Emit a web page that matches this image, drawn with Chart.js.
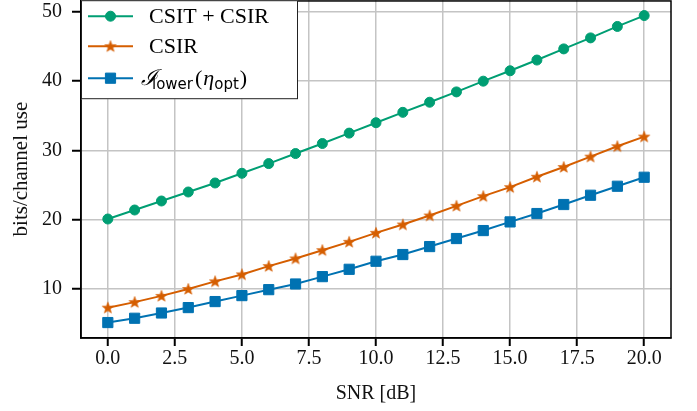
<!DOCTYPE html>
<html><head><meta charset="utf-8">
<script src="https://cdn.jsdelivr.net/npm/chart.js@4.4.1/dist/chart.umd.min.js"></script>
<style>html,body{margin:0;padding:0;background:#fff;overflow:hidden;}canvas{display:block;margin-top:-8px;}</style>
</head><body>
<canvas id="c" width="697" height="419"></canvas>
<script>
const snr = [0,1,2,3,4,5,6,7,8,9,10,11,12,13,14,15,16,17,18,19,20];
const csitCsir = [20.1,21.4,22.7,24.0,25.3,26.7,28.1,29.55,31.0,32.5,34.0,35.5,36.96,38.45,40.0,41.5,43.05,44.66,46.25,47.9,49.47];
const csir = [7.3,8.1,9.0,10.0,11.1,12.1,13.3,14.4,15.6,16.8,18.1,19.3,20.6,22.0,23.4,24.7,26.2,27.6,29.1,30.6,32.0];
const lowerBound = [5.15,5.77,6.53,7.31,8.18,9.04,9.9,10.72,11.78,12.84,14.0,14.97,16.12,17.28,18.43,19.68,20.89,22.19,23.53,24.83,26.13];
const xTicks = [0,2.5,5,7.5,10,12.5,15,17.5,20];
const yTicks = [10,20,30,40,50];
const seriesLabels = ['CSIT + CSIR','CSIR','\u2110lower(\u03B7opt)'];
const xTitle = 'SNR [dB]';
const yTitle = 'bits/channel use';

const GREEN = '#009E73', ORANGE = '#D55E00', BLUE = '#0072B2';
const SERIF = '"Liberation Serif","DejaVu Serif",serif';

function makeStar(color){
  const c = document.createElement('canvas');
  c.width = 14; c.height = 14;
  const g = c.getContext('2d');
  g.beginPath();
  for (let k=0;k<10;k++){
    const r = (k%2===0)?6:2.5;
    const a = -Math.PI/2 + k*Math.PI/5;
    const px = 7 + r*Math.cos(a), py = 7.4 + r*Math.sin(a);
    if(k===0) g.moveTo(px,py); else g.lineTo(px,py);
  }
  g.closePath();
  g.fillStyle = color; g.fill();
  g.strokeStyle = color; g.lineWidth = 0.6; g.stroke();
  return c;
}
const starImg = makeStar(ORANGE);

const pts = (ys)=> snr.map((x,i)=>({x:x,y:ys[i]}));
const noPad = ()=>({left:0,top:0,right:0,bottom:0});

const frameAndLegend = {
  id:'frameAndLegend',
  afterDatasetsDraw(chart){
    const ctx = chart.ctx, a = chart.chartArea;
    ctx.save();
    ctx.strokeStyle = '#000'; ctx.lineWidth = 1.5;
    ctx.strokeRect(a.left, a.top+0.75, a.right-a.left, a.bottom-a.top-0.75);
    // legend box
    const x0 = a.left, y0 = a.top, w = 217, h = 99;
    ctx.fillStyle = '#fff';
    ctx.fillRect(x0, y0, w, h);
    ctx.strokeStyle = '#222'; ctx.lineWidth = 1;
    ctx.strokeRect(x0+0.5, y0+0.5, w-1, h-1);
    const rowsY = [16, 46, 78];
    chart.data.datasets.forEach((ds, i)=>{
      const y = y0 + rowsY[i];
      ctx.strokeStyle = ds.borderColor; ctx.lineWidth = ds.borderWidth;
      ctx.beginPath(); ctx.moveTo(x0+7, y); ctx.lineTo(x0+52, y); ctx.stroke();
      ctx.fillStyle = ds.pointBackgroundColor; ctx.strokeStyle = ds.pointBorderColor;
      ctx.lineWidth = ds.pointBorderWidth;
      Chart.helpers.drawPoint(ctx, {pointStyle: ds.pointStyle, radius: ds.pointRadius, rotation:0, borderWidth: ds.pointBorderWidth}, x0+29.5, y);
      ctx.fillStyle = '#000'; ctx.textBaseline = 'alphabetic'; ctx.textAlign = 'left';
      const base = y + 7;
      let tx = x0 + 68;
      if (i < 2) {
        ctx.font = '22px ' + SERIF;
        ctx.fillText(ds.label, tx, base);
      } else {
        const lbl = ds.label; // ℐlower(ηopt)
        ctx.font = 'italic 22px "DejaVu Serif",serif';
        ctx.fillText(lbl.slice(0,1), tx-8, base);
        tx += 3;
        ctx.font = '15px "DejaVu Sans","Liberation Sans",sans-serif';
        ctx.fillText(lbl.slice(1,6), tx, base+4);
        tx += ctx.measureText(lbl.slice(1,6)).width + 2;
        ctx.font = '22px ' + SERIF;
        ctx.fillText('(', tx, base);
        tx += ctx.measureText('(').width + 1;
        ctx.font = 'italic 22px ' + SERIF;
        ctx.fillText(lbl.slice(7,8), tx, base);
        tx += ctx.measureText(lbl.slice(7,8)).width;
        ctx.font = '15px "DejaVu Sans","Liberation Sans",sans-serif';
        ctx.fillText(lbl.slice(8,11), tx, base+4);
        tx += ctx.measureText(lbl.slice(8,11)).width + 1;
        ctx.font = '22px ' + SERIF;
        ctx.fillText(')', tx, base);
      }
    });
    ctx.restore();
  }
};

new Chart(document.getElementById('c'), {
  type:'line',
  data:{
    datasets:[
      {label: seriesLabels[0], data: pts(csitCsir), borderColor: GREEN, backgroundColor: GREEN,
       borderWidth: 2, pointStyle:'circle', pointRadius: 5, pointBorderWidth: 1,
       pointBackgroundColor: GREEN, pointBorderColor: GREEN, tension:0},
      {label: seriesLabels[1], data: pts(csir), borderColor: ORANGE, backgroundColor: ORANGE,
       borderWidth: 2, pointStyle: starImg, pointRadius: 6, pointBorderWidth: 0,
       pointBackgroundColor: ORANGE, pointBorderColor: ORANGE, tension:0},
      {label: seriesLabels[2], data: pts(lowerBound), borderColor: BLUE, backgroundColor: BLUE,
       borderWidth: 2, pointStyle:'rect', pointRadius: 7.2, pointBorderWidth: 1,
       pointBackgroundColor: BLUE, pointBorderColor: BLUE, tension:0}
    ]
  },
  options:{
    responsive:false, animation:false, devicePixelRatio:1,
    layout:{padding:{top:0,right:26,left:0,bottom:0}},
    plugins:{legend:{display:false}, tooltip:{enabled:false}},
    scales:{
      x:{type:'linear', min:-1, max:21,
        afterBuildTicks(s){ s.ticks = xTicks.map(v=>({value:v})); },
        afterFit(s){ s.height = 73; s.paddingLeft = 0; s.paddingRight = 0; s.paddingTop = 0; s.paddingBottom = 0; s.getPadding = noPad; },
        grid:{color:'#c4c4c4', lineWidth:1.5, tickColor:'#000', tickLength:8, tickWidth:2},
        border:{display:true, color:'#000', width:1.5},
        ticks:{color:'#111', padding:1, maxRotation:0, autoSkip:false,
          font:{family:SERIF, size:20}, callback:(v)=>Number(v).toFixed(1)},
        title:{display:true, text:xTitle, color:'#111', font:{family:SERIF, size:20}, padding:{top:0,bottom:5}}
      },
      y:{type:'linear', min:2.92, max:51.69,
        afterBuildTicks(s){ s.ticks = yTicks.map(v=>({value:v})); },
        afterFit(s){ s.width = 81; s.paddingTop = 0; s.paddingBottom = 0; s.paddingLeft = 0; s.paddingRight = 0; s.getPadding = noPad; },
        grid:{color:'#c4c4c4', lineWidth:1.5, tickColor:'#000', tickLength:9, tickWidth:2},
        border:{display:true, color:'#000', width:1.5},
        ticks:{color:'#111', padding:10, autoSkip:false,
          font:{family:SERIF, size:20}, callback:(v)=>String(v)},
        title:{display:true, text:yTitle, color:'#111', font:{family:SERIF, size:21}, padding:{top:9,bottom:0}}
      }
    }
  },
  plugins:[frameAndLegend]
});
</script>
</body></html>
